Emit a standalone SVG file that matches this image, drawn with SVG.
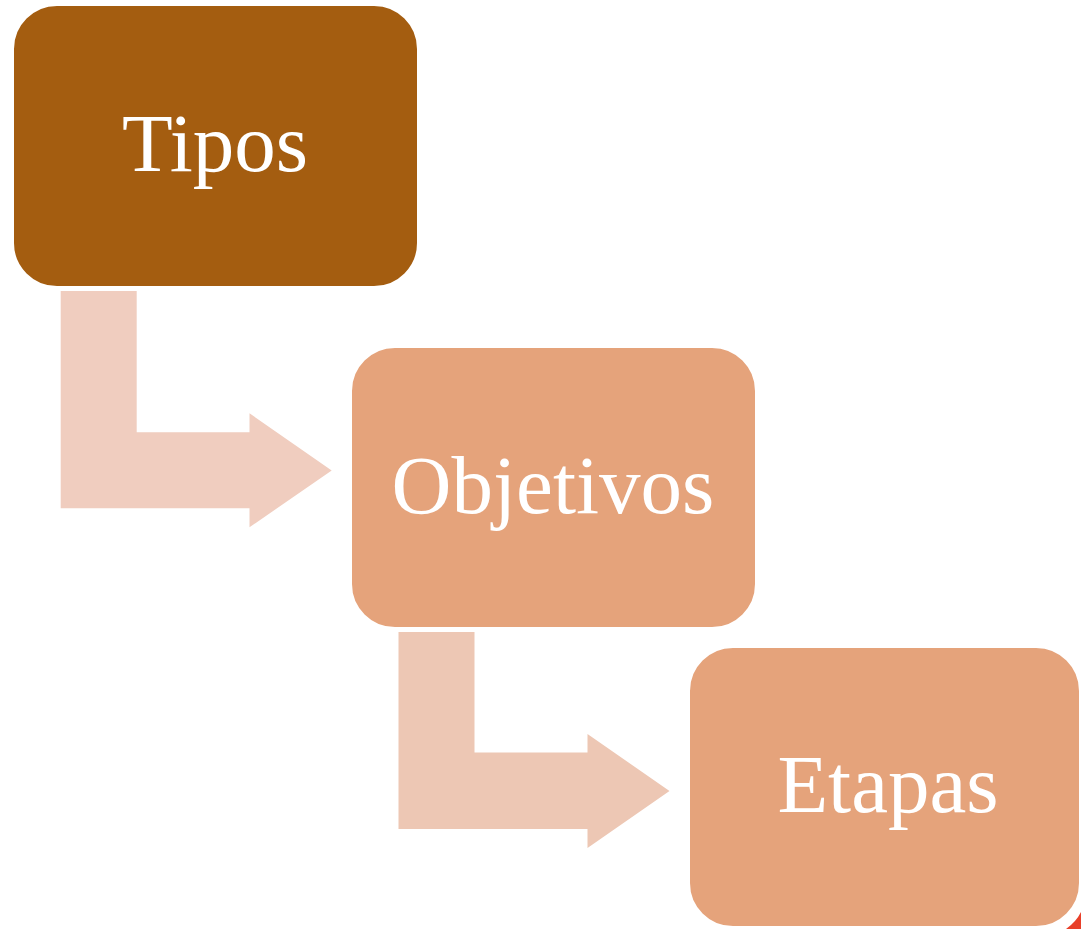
<svg xmlns="http://www.w3.org/2000/svg" width="1081" height="929" viewBox="0 0 1081 929">
  <style>
    .box { stroke: #FFFFFF; stroke-width: 2; }
    .lbl { font-family: "Liberation Serif", "Times New Roman", serif; font-size: 83px; fill: #FFFFFF; text-anchor: middle; }
  </style>
  <rect x="0" y="0" width="1081" height="929" fill="#FFFFFF"/>
  <path d="M1081,912 L1081,929 L1066,929 Q1076,922 1081,912 Z" fill="#E8402A"/>
  <g id="connectors">
    <path id="arrow1" d="M60.7,291 L136.7,291 L136.7,432.3 L249.5,432.3 L249.5,413.3 L331.7,470.5 L249.5,527.3 L249.5,508.3 L60.7,508.3 Z" fill="#F0CDBF"/>
    <path id="arrow2" d="M398.5,632 L474.5,632 L474.5,752.5 L587.5,752.5 L587.5,734 L669.5,791 L587.5,848 L587.5,829 L398.5,829 Z" fill="#EDC7B4"/>
  </g>
  <g id="node-tipos">
    <rect class="box" x="13" y="5" width="405" height="282" rx="44" ry="44" fill="#A45D10"/>
    <text class="lbl" x="215" y="171">Tipos</text>
  </g>
  <g id="node-objetivos">
    <rect class="box" x="351" y="347" width="405" height="281" rx="44" ry="44" fill="#E5A37B"/>
    <text class="lbl" x="553" y="513">Objetivos</text>
  </g>
  <g id="node-etapas">
    <rect class="box" x="689" y="647" width="391" height="280" rx="44" ry="44" fill="#E5A37B"/>
    <text class="lbl" x="888" y="812">Etapas</text>
  </g>
</svg>
